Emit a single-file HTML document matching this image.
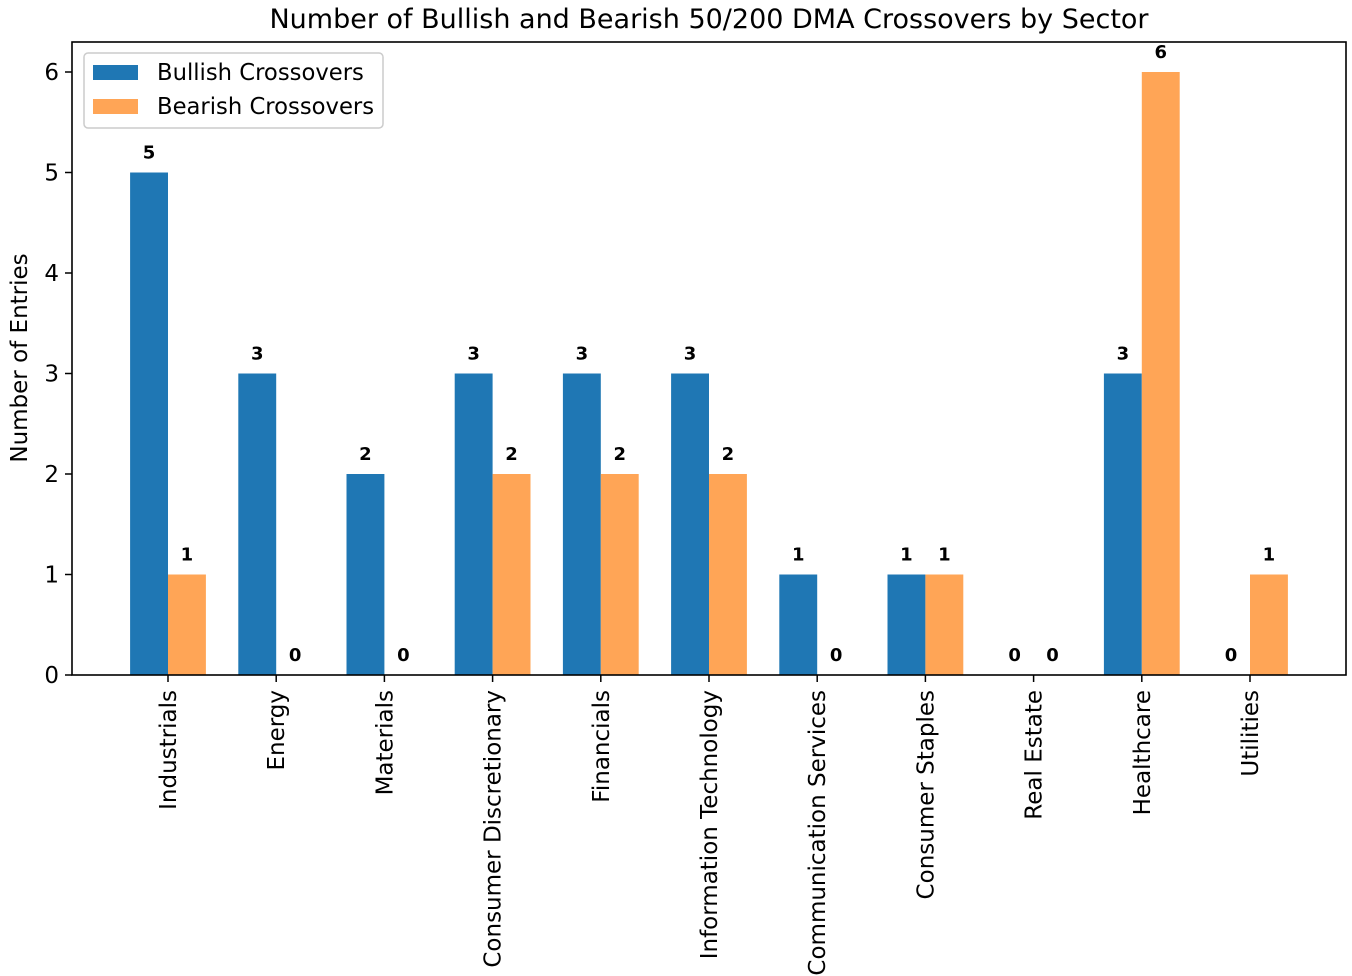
<!DOCTYPE html>
<html><head><meta charset="utf-8"><style>
body{margin:0;background:#fff}
svg{display:block;font-family:"DejaVu Sans","Liberation Sans",sans-serif}
</style></head><body>
<svg width="1352" height="976">
<rect width="1352" height="976" fill="#fff"/>
<text x="709" y="28" font-size="27" text-anchor="middle">Number of Bullish and Bearish 50/200 DMA Crossovers by Sector</text>
<g id="plot"></g>
<rect x="72" y="42" width="1274" height="633" fill="none" stroke="#000" stroke-width="1.6"/>
<text transform="translate(27,358) rotate(-90)" font-size="23" text-anchor="middle">Number of Entries</text>
<g>
<rect x="84" y="53" width="299" height="75" rx="4" fill="#fff" fill-opacity="0.8" stroke="#ccc" stroke-width="1.5"/>
<rect x="93" y="65" width="45" height="15" fill="#1f77b4"/>
<text x="157" y="80" font-size="22.7">Bullish Crossovers</text>
<rect x="93" y="99" width="45" height="15" fill="#ffa556"/>
<text x="157" y="114" font-size="22.7">Bearish Crossovers</text>
</g>
</svg>
<script>
const categories=["Industrials","Energy","Materials","Consumer Discretionary","Financials","Information Technology","Communication Services","Consumer Staples","Real Estate","Healthcare","Utilities"];
const bullish=[5,3,2,3,3,3,1,1,0,3,0];
const bearish=[1,0,0,2,2,2,0,1,0,6,1];
const yTicks=[0,1,2,3,4,5,6];
const NS="http://www.w3.org/2000/svg";
const g=document.getElementById('plot');
const y0=675,pxPerUnit=100.5;
function ys(v){return y0-v*pxPerUnit;}
function xc(i){return 168+108.2*i;}
const bw=37.9;
function mk(tag,attrs){const e=document.createElementNS(NS,tag);for(const k in attrs)e.setAttribute(k,attrs[k]);g.appendChild(e);return e;}
yTicks.forEach(t=>{
  const l=mk('line',{x1:65,x2:72,y1:ys(t),y2:ys(t),stroke:'#000','stroke-width':1.5});
  
  
  const tx=mk('text',{x:59,y:ys(t)+8,'font-size':23,'text-anchor':'end'});
  tx.textContent=t;
  
  
});
categories.forEach((c,i)=>{
  const x=xc(i);
  [[bullish[i],x-bw,'#1f77b4','bullish'],[bearish[i],x,'#ffa556','bearish']].forEach(([v,bx,col,nm])=>{
    const r=mk('rect',{x:bx,y:ys(v),width:bw,height:v*pxPerUnit,fill:col});
    
    
    const t=mk('text',{x:bx+bw/2,y:ys(v)-14,'font-size':18,'font-weight':'bold','text-anchor':'middle'});
    t.textContent=v;
    
    
  });
  const tk=mk('line',{x1:x,x2:x,y1:675,y2:682,stroke:'#000','stroke-width':1.5});
  
  
  const lb=mk('text',{transform:`translate(${x+8},690) rotate(-90)`,'font-size':23,'text-anchor':'end'});
  lb.textContent=c;
  
  
});
</script>
</body></html>
